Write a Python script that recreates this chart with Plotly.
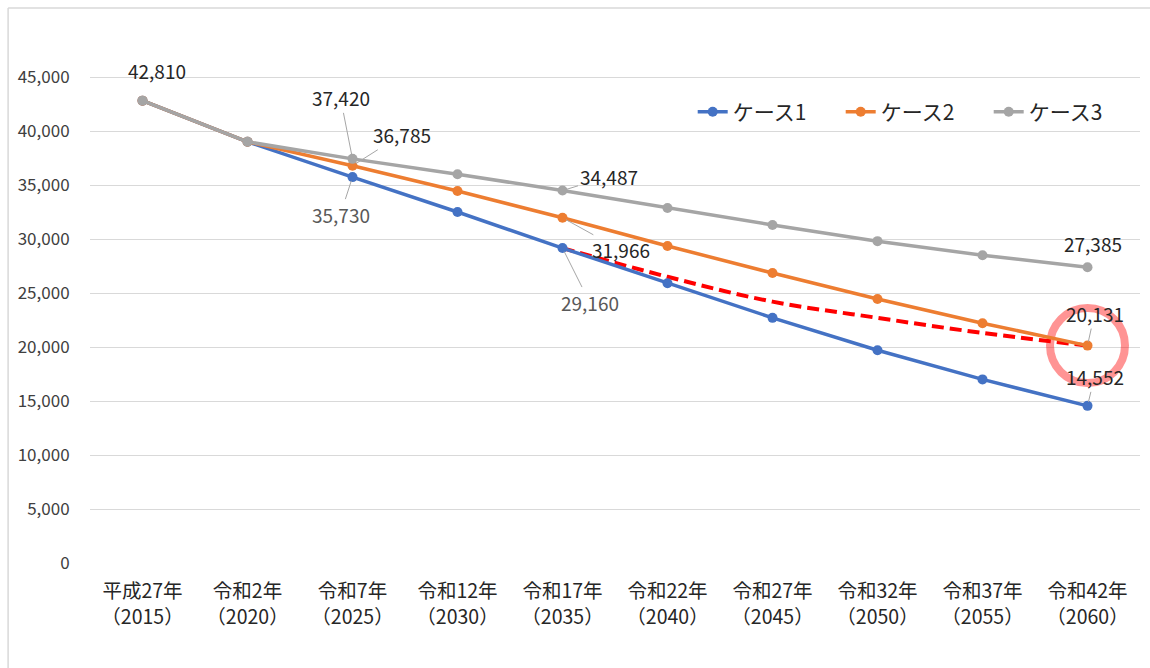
import plotly.graph_objects as go

# Categories and projected population per scenario
years = ["平成27年<br>（2015）", "令和2年<br>（2020）", "令和7年<br>（2025）", "令和12年<br>（2030）",
         "令和17年<br>（2035）", "令和22年<br>（2040）", "令和27年<br>（2045）", "令和32年<br>（2050）",
         "令和37年<br>（2055）", "令和42年<br>（2060）"]
case1 = [42810, 39000, 35730, 32500, 29160, 25900, 22700, 19700, 17000, 14552]
case2 = [42810, 39000, 36785, 34450, 31966, 29350, 26850, 24450, 22200, 20131]
case3 = [42810, 39000, 37420, 36000, 34487, 32870, 31300, 29800, 28500, 27385]

# Target path from case 1 (2035) toward case 2 (2060)
target_years = years[4:]
target_vals = [29160, 26500, 24200, 22700, 21300, 20131]

ytick_vals = [0, 5000, 10000, 15000, 20000, 25000, 30000, 35000, 40000, 45000]

series = [("ケース1", case1, "#4472C4"),
          ("ケース2", case2, "#ED7D31"),
          ("ケース3", case3, "#A5A5A5")]

FONT = "Noto Sans CJK JP"
DARK = "#262626"
GREY_TXT = "#595959"
LEADER = "#A6A6A6"

fig = go.Figure()

fig.add_trace(go.Scatter(
    x=target_years, y=target_vals, mode="lines",
    line=dict(color="#FF0000", width=4, dash="12px,6px", shape="spline", smoothing=1.0),
    showlegend=False, hoverinfo="skip"))

for name, vals, color in series:
    fig.add_trace(go.Scatter(
        x=years, y=vals, name=name, mode="lines+markers",
        line=dict(color=color, width=3.5),
        marker=dict(color=color, size=10)))

# Data labels: (category index, value, dx, dy, text colour, leader line)
labels = [
    (0, case3[0], 14, -30, DARK, False),
    (2, case3[2], -12, -61, DARK, True),
    (2, case2[2], 49, -31, DARK, True),
    (2, case1[2], -12, 37, GREY_TXT, True),
    (4, case3[4], 46, -14, DARK, True),
    (4, case2[4], 58, 32, DARK, True),
    (4, case1[4], 27, 54, GREY_TXT, True),
    (9, case3[9], 5, -24, DARK, False),
    (9, case2[9], 7, -32, DARK, True),
    (9, case1[9], 7, -29, DARK, True),
]
for i, v, dx, dy, col, leader in labels:
    common = dict(x=years[i], y=v, text=f"{v:,}",
                  font=dict(family=FONT, size=19, color=col))
    if leader:
        fig.add_annotation(**common, showarrow=True, arrowhead=0, arrowwidth=1,
                           arrowcolor=LEADER, ax=dx, ay=dy, standoff=4)
    else:
        fig.add_annotation(**common, showarrow=False, xshift=dx, yshift=-dy)

# Highlight ring around the 2060 value of case 2
fig.add_shape(type="circle", xref="x", yref="y",
              xsizemode="pixel", ysizemode="pixel",
              xanchor=years[9], yanchor=case2[9],
              x0=-37.5, x1=37.5, y0=-37.5, y1=37.5,
              line=dict(color="rgba(255,0,0,0.42)", width=8), layer="between")

# Chart-area frame (left and top edges)
fig.add_shape(type="line", xref="paper", yref="paper", x0=-0.078, x1=1.2, y0=1.0278, y1=1.0278,
              line=dict(color="#D9D9D9", width=1.5))
fig.add_shape(type="line", xref="paper", yref="paper", x0=-0.078, x1=-0.078, y0=1.0278, y1=-0.3,
              line=dict(color="#D9D9D9", width=1.5))

fig.update_layout(
    width=1150, height=668,
    margin=dict(l=90, r=10, t=23, b=105, autoexpand=False),
    paper_bgcolor="white", plot_bgcolor="white",
    font=dict(family=FONT, color=DARK),
    legend=dict(orientation="h", x=0.574, y=0.835, xanchor="left", yanchor="middle",
                font=dict(family=FONT, size=21, color=DARK),
                bgcolor="rgba(0,0,0,0)", entrywidth=103, entrywidthmode="pixels"),
    showlegend=True,
)
fig.update_xaxes(type="category", categoryorder="array", categoryarray=years,
                 range=[-0.5, len(years) - 0.5],
                 automargin=False, showgrid=False, zeroline=False, showline=False,
                 ticks="outside", ticklen=11, tickcolor="rgba(0,0,0,0)",
                 tickfont=dict(family=FONT, size=19.5, color=DARK))
fig.update_yaxes(range=[0, 50000], tickvals=ytick_vals, tickformat=",",
                 automargin=False, showgrid=True, gridcolor="#D9D9D9", gridwidth=1,
                 zeroline=False, showline=False,
                 ticks="outside", ticklen=16, tickcolor="rgba(0,0,0,0)",
                 tickfont=dict(family=FONT, size=17, color="#404040"))

fig.write_html("out.html")
